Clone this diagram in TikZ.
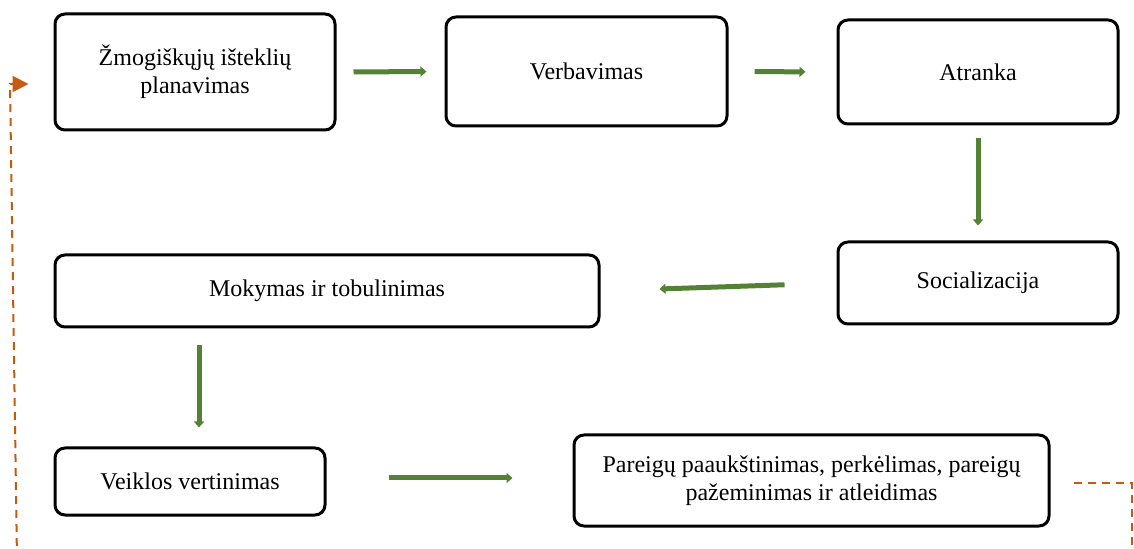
\documentclass[tikz,border=0pt]{standalone}
\usepackage{fontspec}
\setmainfont{Liberation Serif}
\usetikzlibrary{arrows.meta}

\begin{document}
\begin{tikzpicture}[x=0.5pt, y=-0.5pt,
    every node/.style={font=\fontsize{12pt}{14pt}\selectfont},
    stage/.style={draw, line width=1.5pt, rounded corners=5pt, align=center, inner sep=0pt},
    flow/.style={draw={rgb,255:red,84;green,130;blue,53}, line width=2.5pt,
        -{Triangle[length=3pt, width=5pt]}},
    feedback/.style={draw={rgb,255:red,197;green,90;blue,17}, line width=1pt,
        dash pattern=on 4pt off 3pt}]
                    \useasboundingbox (0,0) rectangle (1134,549);

                    \node[stage, minimum width=140pt, minimum height=58pt] (plan) at (195,72)
                        {Žmogiškųjų išteklių\\planavimas};
                    \node[stage, minimum width=140.5pt, minimum height=54.5pt] (verb) at (586.5,71.5) {Verbavimas};
                    \node[stage, minimum width=140pt, minimum height=52pt] (atr) at (978,72) {Atranka};
                    \node[stage, minimum width=140pt, minimum height=41pt] (soc) at (978,283) {Socializacija};
                    \node[stage, minimum width=272pt, minimum height=36pt] (mok) at (327,291) {Mokymas ir tobulinimas};
                    \node[stage, minimum width=135pt, minimum height=33.5pt] (veik) at (190,481.5) {Veiklos vertinimas};
                    \node[stage, minimum width=237.5pt, minimum height=45.5pt] (par) at (811.5,480.5)
                        {Pareigų paaukštinimas, perkėlimas, pareigų\\pažeminimas ir atleidimas};

                    \draw[flow, shorten <=8.5pt, shorten >=9pt] (plan.east) -- (verb.west);
                    \draw[flow, shorten <=13pt, shorten >=15.5pt] (verb.east) -- (atr.west);
                    \draw[flow, shorten <=6.5pt, shorten >=7.5pt] (atr.south) -- (soc.north);
                    \draw[flow, shorten <=26pt, shorten >=29.5pt] (soc.west) -- (mok.east);
                    \draw[flow, shorten <=8.5pt, shorten >=9.5pt]
                        ([xshift=4.5pt]mok.south -| veik.north) -- ([xshift=4.5pt]veik.north);
                    \draw[flow, shorten <=31pt, shorten >=30pt]
                        ([yshift=1.75pt]veik.east) -- ([yshift=1.25pt]par.west);

                    % feedback loop
                    \coordinate (loopR) at (1132,560);
                    \coordinate (loopL) at (17,560);
                    \coordinate (loopT) at (10,84);
                    \draw[feedback] ([xshift=11.5pt, yshift=-1.5pt]par.east) -| (loopR);
                    \draw[feedback, -{Triangle[length=8pt, width=8pt]}]
                        (loopL) -- (loopT) -- ([xshift=-12.5pt, yshift=-6pt]plan.west);
                \end{tikzpicture}
\end{document}
